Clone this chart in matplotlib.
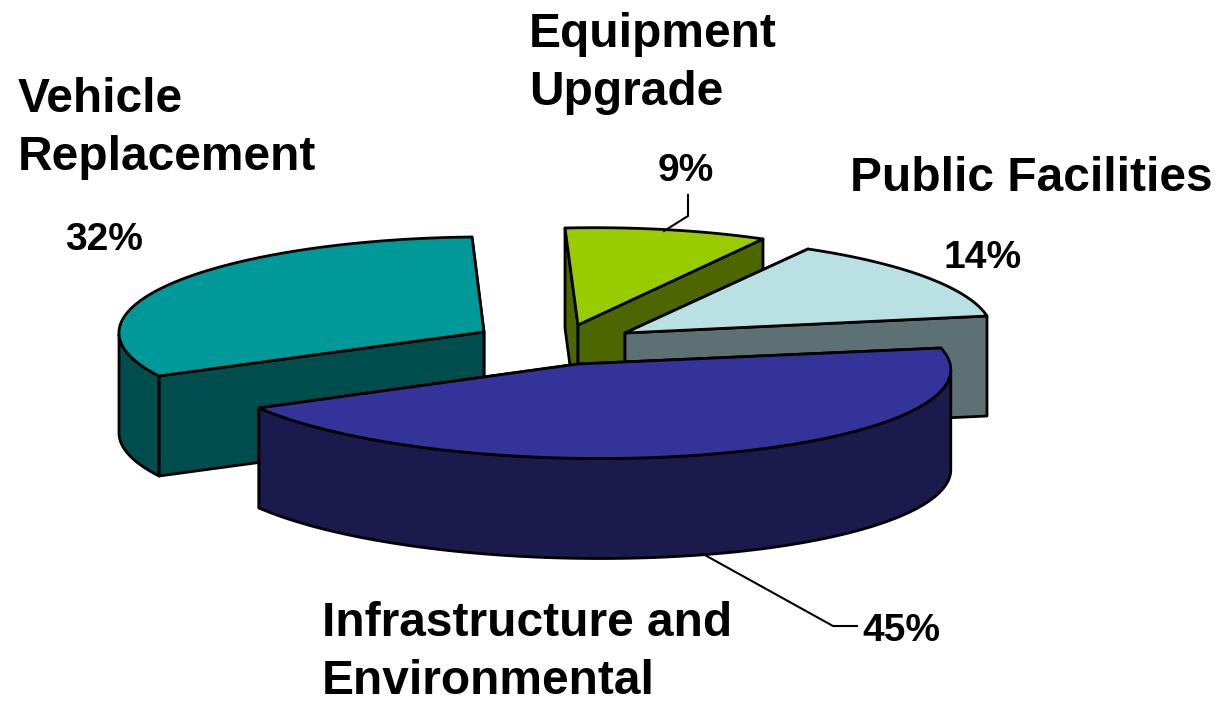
import matplotlib
matplotlib.use('Agg')
import matplotlib.pyplot as plt
import numpy as np

labels = ['Vehicle\nReplacement', 'Equipment\nUpgrade', 'Public Facilities', 'Infrastructure and\nEnvironmental']
values = [32, 9, 14, 45]
top_colors = ['#009999', '#99CC00', '#B9E0E3', '#333399']
side_colors = ['#004D4D', '#4D6600', '#5D7073', '#1A1A4D']

# layout of each exploded slice in pixels: tip, first rim corner, second rim corner
tips = [(484, 332), (578, 325), (625, 333), (578, 364)]
starts = [(472, 237), (565, 228), (808, 249), (941, 348)]
ends = [(159, 376), (763, 239), (987, 316), (259, 408)]
depth = 100

# text positions (left, baseline) in pixels
label_pos = [(18, 112), (529, 47), (850, 191), (322, 636)]
pct_pos = [(65, 250), (658, 181), (943, 268), (862, 641)]
line_gap = 58

fig = plt.figure(figsize=(12.18, 7.02), dpi=100)
ax = fig.add_axes([0, 0, 1, 1])
ax.set_xlim(0, 1218)
ax.set_ylim(702, 0)
ax.axis('off')
plt.rcParams['font.family'] = ['Liberation Sans', 'DejaVu Sans']


def rim(tip, a, b, value):
    # arc of the slice, its angle comes from the value
    theta = value / sum(values) * 2 * np.pi
    t = np.linspace(0, theta, 120)
    u0 = np.array(a) - np.array(tip)
    u1 = np.array(b) - np.array(tip)
    pts = (np.outer(np.sin(theta - t), u0) + np.outer(np.sin(t), u1)) / np.sin(theta)
    return pts + np.array(tip)


def front_part(arc, tip):
    # only the part of the rim whose outside faces the viewer gets a wall
    d = np.gradient(arc, axis=0)
    normal = np.column_stack([d[:, 1], -d[:, 0]])
    out = arc - np.array(tip)
    flip = np.sign((normal * out).sum(axis=1))
    return arc[normal[:, 1] * flip > 0]


def face(pts, color):
    ax.fill(pts[:, 0], pts[:, 1], facecolor=color, edgecolor='black', linewidth=2.0, joinstyle='round')


def wall(p, q, color):
    p = np.array(p, dtype=float)
    q = np.array(q, dtype=float)
    face(np.array([p, q, q + [0, depth], p + [0, depth]]), color)


for i in range(len(values)):
    arc = rim(tips[i], starts[i], ends[i], values[i])
    # back wall first, then front wall
    walls = sorted([starts[i], ends[i]], key=lambda c: c[1])
    for c in walls:
        wall(tips[i], c, side_colors[i])
    front = front_part(arc, tips[i])
    if len(front) > 1:
        face(np.vstack([front, (front + [0, depth])[::-1]]), side_colors[i])
    face(np.vstack([[tips[i]], arc]), top_colors[i])

# leader lines
ax.plot([688, 688, 664], [195, 216, 231], color='black', linewidth=1.5)
ax.plot([703, 833, 857], [554, 626, 626], color='black', linewidth=1.5)

for i in range(len(values)):
    for j, line in enumerate(labels[i].split('\n')):
        ax.text(label_pos[i][0], label_pos[i][1] + j * line_gap, line, fontsize=34.5,
                fontweight='bold', va='baseline', ha='left')
    ax.text(pct_pos[i][0], pct_pos[i][1], f'{values[i]}%', fontsize=28,
            fontweight='bold', va='baseline', ha='left')

fig.savefig('out.png', dpi=100)
